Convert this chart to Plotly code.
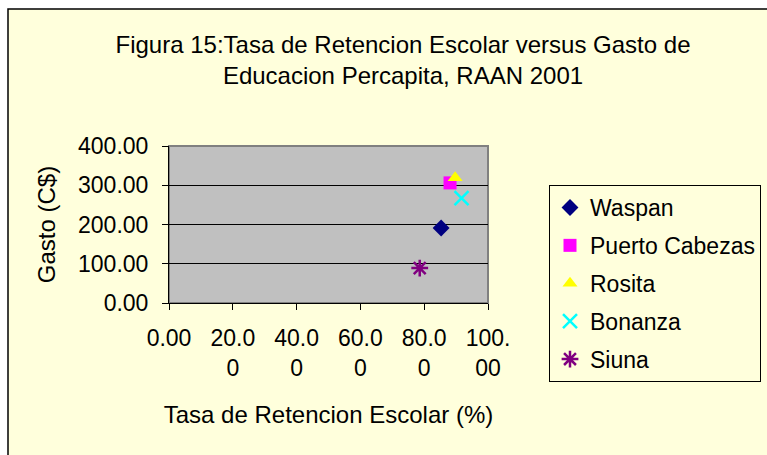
import plotly.graph_objects as go

names = ["Waspan", "Puerto Cabezas", "Rosita", "Bonanza", "Siuna"]
retencion = [85.3, 88.1, 89.7, 91.7, 78.6]
gasto = [191.0, 306.0, 319.0, 267.0, 89.0]
colors = ["#000080", "#FF00FF", "#FFFF00", "#00FFFF", "#800080"]
symbols = ["diamond", "square", "triangle-up", "x-thin", "asterisk"]

x_tickvals = [0, 20, 40, 60, 80, 100]
x_ticktext = ["0.00", "20.0<br>0", "40.0<br>0", "60.0<br>0", "80.0<br>0", "100.<br>00"]
y_tickvals = [0, 100, 200, 300, 400]

FONT = "Liberation Sans, Arial, sans-serif"

fig = go.Figure()
for i, n in enumerate(names):
    thin = symbols[i] in ("x-thin", "asterisk")
    fig.add_trace(go.Scatter(
        x=[retencion[i]], y=[gasto[i]], mode="markers", name=n,
        legendgroup=n,
        marker=dict(symbol=symbols[i], color=colors[i], size=13 if not thin else 14,
                    line=dict(color=colors[i], width=2.5 if thin else 0)),
    ))

W, H = 767, 455
L, R, T, B = 169, 488, 146, 303
pw, ph = R - L, B - T

def px(xp):
    return (xp - L) / pw

def py(yp):
    return (B - yp) / ph

fig.update_layout(
    width=W, height=H,
    margin=dict(l=L, r=W - R, t=T, b=H - B, autoexpand=False),
    paper_bgcolor="white",
    plot_bgcolor="#C0C0C0",
    font=dict(family=FONT, size=23, color="black"),
    title=dict(text="Figura 15:Tasa de Retencion Escolar versus Gasto de<br>Educacion Percapita, RAAN 2001",
               x=px(403), xanchor="center", xref="paper", y=1 - 53 / H, yanchor="top",
               font=dict(size=24)),
    showlegend=True,
    legend=dict(x=px(549), y=py(185), xanchor="left", yanchor="top",
                bgcolor="rgba(0,0,0,0)", bordercolor="black", borderwidth=1,
                tracegroupgap=5, itemwidth=30, font=dict(size=23), maxheight=400,
                entrywidth=240, entrywidthmode="pixels"),
    xaxis=dict(range=[0, 100], tickvals=x_tickvals, ticktext=x_ticktext,
               showgrid=False, zeroline=False, ticks="outside", ticklen=6,
               tickcolor="black", showline=True, linecolor="black", linewidth=1,
               ticklabelstandoff=8,
               title=dict(text="Tasa de Retencion Escolar (%)", standoff=26, font=dict(size=24)),
               tickfont=dict(size=23)),
    yaxis=dict(range=[0, 400], tickvals=y_tickvals, tickformat=".2f",
               showgrid=True, gridcolor="black", gridwidth=1, zeroline=False,
               ticks="outside", ticklen=6, tickcolor="black",
               showline=True, linecolor="black", linewidth=1,
               ticklabelstandoff=9,
               title=dict(text="Gasto (C$)", standoff=15, font=dict(size=24)),
               tickfont=dict(size=23)),
    shapes=[
        dict(type="rect", xref="paper", yref="paper", layer="below",
             x0=px(8), y0=py(470), x1=px(790), y1=py(9),
             fillcolor="#FFFFDC", line=dict(color="black", width=1.5)),
        dict(type="rect", xref="paper", yref="paper", layer="below",
             x0=0, y0=0, x1=1, y1=1, fillcolor="#C0C0C0",
             line=dict(color="#808080", width=2)),
    ],
)

fig.write_html("out.html", config={"displayModeBar": False},
               post_script="document.body.style.margin='0';")
